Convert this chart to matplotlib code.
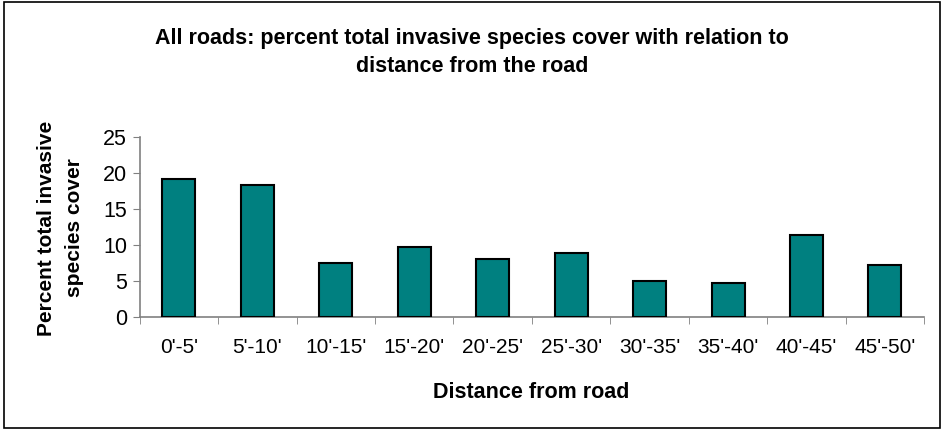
import matplotlib
matplotlib.use("Agg")
import matplotlib.pyplot as plt
import numpy as np
from matplotlib.patches import Rectangle

plt.rcParams["font.family"] = ["Liberation Sans", "DejaVu Sans"]

# ── Datos ────────────────────────────────────────────────────────────────────
distancias = ["0'-5'", "5'-10'", "10'-15'", "15'-20'", "20'-25'",
              "25'-30'", "30'-35'", "35'-40'", "40'-45'", "45'-50'"]
cobertura = [19.1, 18.3, 7.5, 9.7, 8.0, 8.9, 5.0, 4.7, 11.4, 7.2]
y_ticks = [0, 5, 10, 15, 20, 25]

fig = plt.figure(figsize=(9.44, 4.30), dpi=100)
ax = fig.add_axes([0.148, 0.263, 0.831, 0.419])

x = np.arange(len(distancias))
ax.bar(x, cobertura, width=0.42, color="#008080", edgecolor="black",
       linewidth=1.5, zorder=3)

ax.set_xlim(-0.5, len(distancias) - 0.5)
ax.set_ylim(0, 25)
ax.set_yticks(y_ticks)
ax.set_xticks(x)
ax.set_xticklabels(distancias, fontsize=15)
ax.tick_params(axis="x", length=0, pad=15)
ax.set_xticks(np.arange(-0.5, len(distancias)), minor=True)
ax.tick_params(axis="x", which="minor", length=5, color="#808080", direction="out")
ax.tick_params(axis="y", length=5, color="#808080", labelsize=15.5, pad=4)

for s in ("top", "right"):
    ax.spines[s].set_visible(False)
for s in ("left", "bottom"):
    ax.spines[s].set_color("#808080")
    ax.spines[s].set_linewidth(1.2)

fig.text(0.563, 0.088, "Distance from road", ha="center", va="center",
         fontsize=15.5, fontweight="bold")
fig.text(0.064, 0.47, "Percent total invasive\nspecies cover", ha="center",
         va="center", rotation=90, fontsize=15, fontweight="bold",
         linespacing=1.6)

fig.text(0.5, 0.878,
         "All roads: percent total invasive species cover with relation to\n"
         "distance from the road",
         ha="center", va="center", fontsize=15.5, fontweight="bold",
         linespacing=1.45)

# Marco exterior
fig.patches.append(Rectangle((0.004, 0.005), 0.992, 0.99, transform=fig.transFigure,
                             fill=False, edgecolor="black", linewidth=1.2))

plt.savefig("out.png", dpi=100)
plt.close()
